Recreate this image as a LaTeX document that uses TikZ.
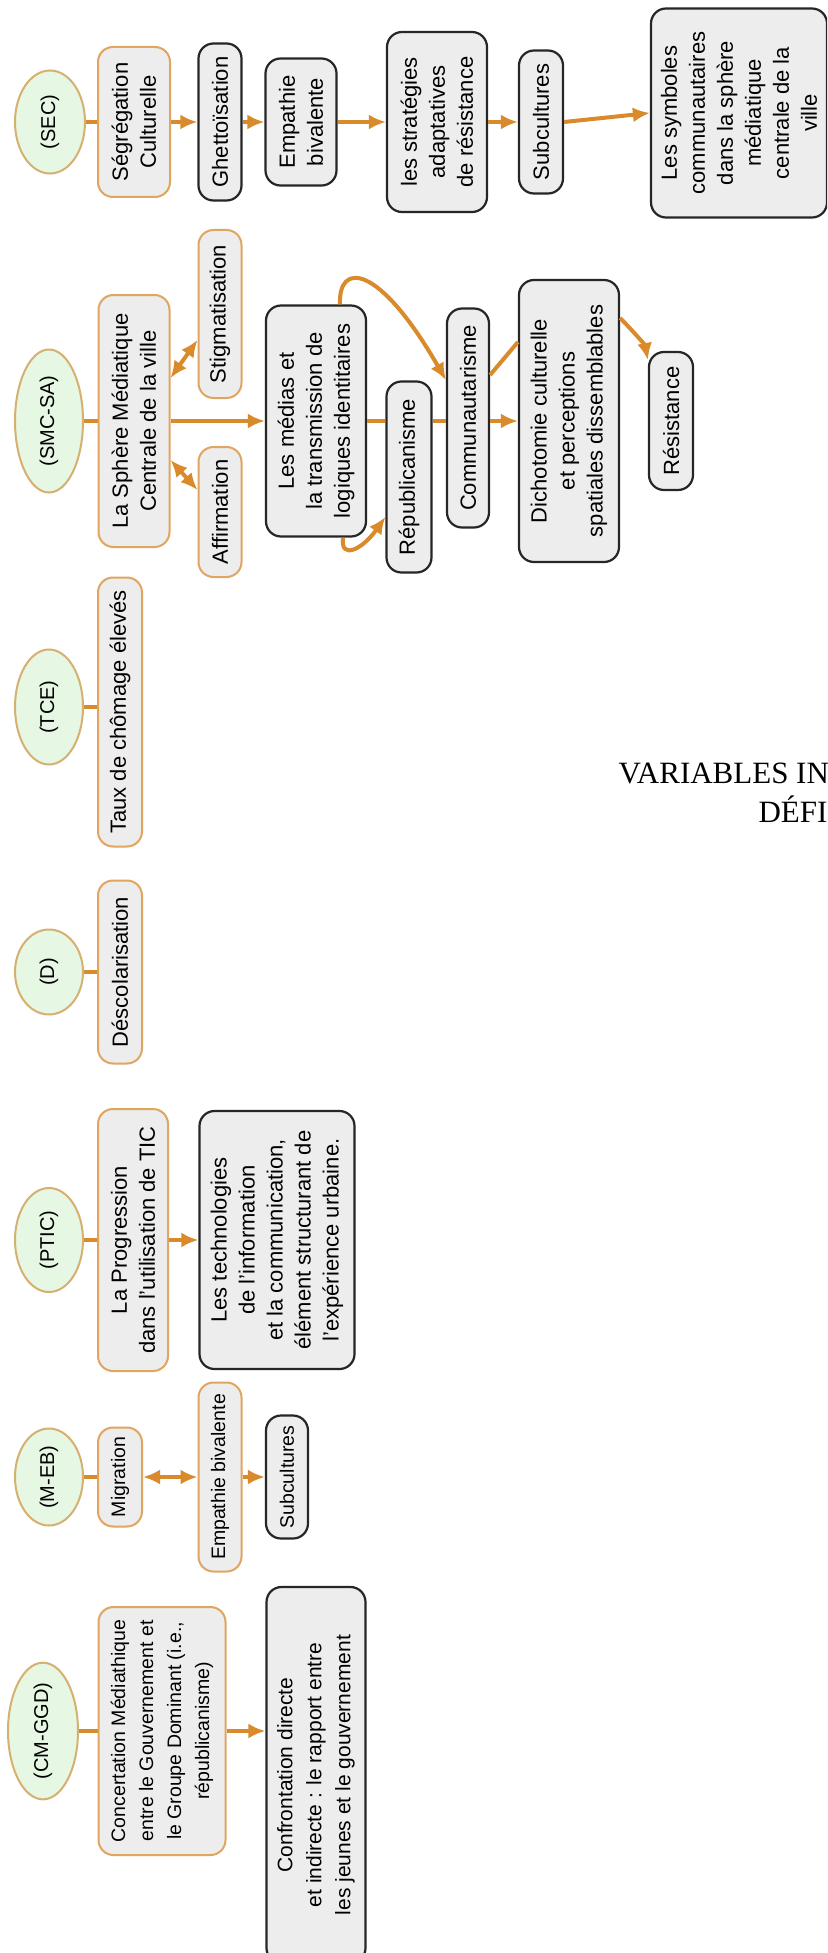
\documentclass[tikz,border=0pt]{standalone}
\usepackage{fontspec}
\setmainfont{Liberation Sans}
\newfontfamily\titrefont{Liberation Serif}
\usepackage{xcolor}
\usepackage{tikz}
\usetikzlibrary{arrows.meta, shapes.geometric, calc}

\definecolor{orangefl}{HTML}{D98B2B}
\definecolor{bordorange}{HTML}{E0A55E}
\definecolor{bordvar}{HTML}{D6B070}
\definecolor{vertpale}{HTML}{E6F7E4}
\definecolor{grisfond}{HTML}{EDEDED}

\begin{document}
\begin{tikzpicture}[x=1pt, y=-1pt, >={Latex[length=17pt,width=15pt]},
    var/.style={ellipse, draw=bordvar, fill=vertpale, line width=2pt, rotate=90,
        inner sep=0pt, font=\fontsize{20}{24}\selectfont},
    obox/.style={rectangle, rounded corners=15pt, draw=bordorange, fill=grisfond,
        line width=2pt, rotate=90, align=center, inner sep=2pt,
        font=\fontsize{22}{28}\selectfont},
    nbox/.style={obox, draw=black!85, line width=2.2pt},
    petit/.style={font=\fontsize{19.5}{28}\selectfont},
    fl/.style={draw=orangefl, line width=4pt}]

    % 0. Cadre de la page
    \useasboundingbox (0,0) rectangle (827,1953);
    \fill[white] (0,0) rectangle (827,1953);
    \clip (0,0) rectangle (827,1953);

    % 1. Colonne (SEC)
    \node[var, minimum width=103pt, minimum height=70pt] (sec) at (50,122) {(SEC)};
    \node[obox, minimum width=150pt, minimum height=72pt] (segr) at (134,122) {Ségrégation\\Culturelle};
    \node[nbox, minimum width=157pt, minimum height=43pt] (ghetto) at (220,122) {Ghettoïsation};
    \node[nbox, minimum width=127pt, minimum height=71pt] (empsec) at (301,122) {Empathie\\bivalente};
    \node[nbox, minimum width=180pt, minimum height=100pt] (strat) at (437,122) {les stratégies\\adaptatives\\de résistance};
    \node[nbox, minimum width=143pt, minimum height=44pt] (subsec) at (541,122) {Subcultures};
    \node[nbox, minimum width=209pt, minimum height=176pt] (symb) at (739,113)
        {Les symboles\\communautaires\\dans la sphère\\médiatique\\centrale de la\\ville};

    \draw[fl] (sec.south) -- (segr.north);
    \draw[fl, ->] (segr.south) -- (ghetto.north);
    \draw[fl, ->] (ghetto.south) -- (empsec.north);
    \draw[fl, ->] (empsec.south) -- (strat.north);
    \draw[fl, ->] (strat.south) -- (subsec.north);
    \draw[fl, ->] (subsec.south) -- (symb.north);

    % 2. Colonne (SMC-SA)
    \node[var, minimum width=143pt, minimum height=68pt] (smc) at (49,421) {(SMC-SA)};
    \node[obox, minimum width=252pt, minimum height=71pt] (sphere) at (134,421) {La Sphère Médiatique\\Centrale de la ville};
    \node[obox, minimum width=168pt, minimum height=43pt] (stigma) at (220,314) {Stigmatisation};
    \node[obox, minimum width=130pt, minimum height=43pt] (affirm) at (220,512) {Affirmation};
    \node[nbox, minimum width=231pt, minimum height=100pt] (medias) at (316,421) {Les médias et\\la transmission de\\logiques identitaires};
    \node[nbox, minimum width=191pt, minimum height=45pt] (repub) at (409,477) {Républicanisme};
    \node[nbox, minimum width=219pt, minimum height=42pt] (comm) at (468,418) {Communautarisme};
    \node[nbox, minimum width=282pt, minimum height=100pt] (dicho) at (569,421) {Dichotomie culturelle\\et perceptions\\spatiales dissemblables};
    \node[nbox, minimum width=138pt, minimum height=44pt] (resist) at (671,421) {Résistance};

    \draw[fl] (smc.south) -- (sphere.north);
    \draw[fl, <->] (sphere.south |- 0,378) -- (stigma.north |- 0,340);
    \draw[fl, <->] (sphere.south |- 0,460) -- (affirm.north |- 0,490);
    \draw[fl, ->] (sphere.south) -- (medias.north);
    \draw[fl] (medias.south) -- (repub.north |- medias.south);
    \draw[fl] (repub.south |- medias.south) -- (comm.north |- medias.south);
    \draw[fl, ->] (comm.south |- medias.south) -- (dicho.north);
    \draw[fl, ->] ([xshift=24pt]medias.east) .. controls (338,262) and (378,262) .. (comm.north |- 0,380);
    \draw[fl, ->] ([xshift=27pt]medias.west) .. controls (340,560) and (362,550) .. (repub.north |- 0,517);
    \draw[fl] (comm.south |- 0,375) -- (dicho.north |- 0,342);
    \draw[fl, ->] (dicho.south |- 0,318) .. controls (632,330) and (645,345) .. (resist.north |- 0,360);

    % 3. Colonne (TCE)
    \node[var, minimum width=115pt, minimum height=68pt] (tce) at (49,707) {(TCE)};
    \node[obox, minimum width=269pt, minimum height=44pt] (taux) at (120,712) {Taux de chômage élevés};
    \draw[fl] (tce.south) -- (taux.north |- tce.south);

    % 4. Colonne (D)
    \node[var, minimum width=85pt, minimum height=68pt] (d) at (49,972) {(D)};
    \node[obox, minimum width=183pt, minimum height=44pt] (desco) at (120,972) {Déscolarisation};
    \draw[fl] (d.south) -- (desco.north);

    % 5. Colonne (PTIC)
    \node[var, minimum width=104pt, minimum height=68pt] (ptic) at (49,1240) {(PTIC)};
    \node[obox, minimum width=262pt, minimum height=70pt] (progr) at (133,1240) {La Progression\\dans l'utilisation de TIC};
    \node[nbox, minimum width=258pt, minimum height=155pt] (techno) at (277,1240)
        {Les technologies\\de l'information\\et la communication,\\élément structurant de\\l'expérience urbaine.};
    \draw[fl] (ptic.south) -- (progr.north);
    \draw[fl, ->] (progr.south) -- (techno.north);

    % 6. Colonne (M-EB)
    \node[var, minimum width=97pt, minimum height=68pt] (meb) at (49,1477) {(M-EB)};
    \node[obox, petit, minimum width=99pt, minimum height=44pt] (migr) at (120,1477) {Migration};
    \node[obox, petit, minimum width=189pt, minimum height=43pt] (empmeb) at (220,1477) {Empathie bivalente};
    \node[nbox, petit, minimum width=123pt, minimum height=42pt] (submeb) at (287,1477) {Subcultures};
    \draw[fl] (meb.south) -- (migr.north);
    \draw[fl, <->] (migr.south) -- (empmeb.north);
    \draw[fl, ->] (empmeb.south) -- (submeb.north);

    % 7. Colonne (CM-GGD)
    \node[var, minimum width=132pt, minimum height=70pt] (cmggd) at (43,1731) {(CM-GGD)};
    \node[obox, petit, minimum width=248pt, minimum height=127pt] (concert) at (162,1731)
        {Concertation Médiathique\\entre le Gouvernement et\\le Groupe Dominant (i.e.,\\républicanisme)};
    \node[nbox, font=\fontsize{21}{29}\selectfont, minimum width=376pt, minimum height=99pt] (confr) at (316,1775)
        {Confrontation directe\\et indirecte : le rapport entre\\les jeunes et le gouvernement};
    \draw[fl] (cmggd.south) -- (concert.north);
    \draw[fl, ->] (concert.south) -- (confr.north |- concert.south);

    % 8. Titre coupé au bord
    \node[anchor=base west, font=\titrefont\fontsize{31}{38}\selectfont] (titre) at (615,783) {VARIABLES IN};
    \node[anchor=base west, font=\titrefont\fontsize{31}{38}\selectfont] (titrebis) at (755,822) {DÉFI};

\end{tikzpicture}
\end{document}
